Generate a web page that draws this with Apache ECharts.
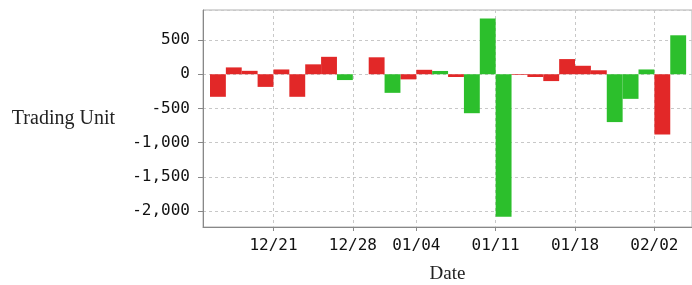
<!DOCTYPE html>
<html>
<head>
<meta charset="utf-8">
<script src="https://cdn.jsdelivr.net/npm/echarts@6/dist/echarts.min.js"></script>
<style>
  html, body { margin: 0; padding: 0; background: #fff; }
  #chart { width: 692px; height: 285px; }
</style>
</head>
<body>
<div id="chart"></div>
<script>
// trading days shown on the axis
const dates = [
  '12/15', '12/16', '12/17', '12/18',
  '12/21', '12/22', '12/23', '12/24', '12/25',
  '12/28', '12/29', '12/30', '12/31',
  '01/04', '01/05', '01/06', '01/07', '01/08',
  '01/11', '01/12', '01/13', '01/14', '01/15',
  '01/18', '01/19', '01/20', '01/21', '01/22',
  '02/02', '02/03'
]
const tickLabels = ['12/21', '12/28', '01/04', '01/11', '01/18', '02/02']

// red bars (price up days) and green bars (price down days)
const upDays = [
  -330, 100, 50, -185, 70, -330, 145, 255, null, null,
  248, null, -75, 65, null, -40, null, null, null, -10,
  -40, -100, 222, 124, 58, null, null, null, -880, null
]
const downDays = [
  null, null, null, null, null, null, null, null, -85, null,
  null, -272, null, null, 48, null, -570, 815, -2085, null,
  null, null, null, null, null, -700, -360, 70, null, 570
]

const chart = echarts.init(document.getElementById('chart'))

const tickPos = tickLabels.map(d => dates.indexOf(d) - 0.5)
const toPoints = arr => arr.map((v, i) => [i, v])

const dashed = { show: true, lineStyle: { color: '#c8c8c8', type: [3, 3], width: 1 } }

const option = {
  animation: false,
  grid: {
    left: 203, right: 0, top: 10, bottom: 58,
    outerBoundsMode: 'none',
    show: true, borderColor: '#b0b0b0', borderWidth: 1
  },
  xAxis: {
    type: 'value',
    min: -0.94,
    max: 29.87,
    name: 'Date',
    nameLocation: 'middle',
    nameGap: 38,
    nameTextStyle: { fontFamily: 'Liberation Serif', fontSize: 19, color: '#222' },
    axisLine: { show: true, onZero: false, lineStyle: { color: '#888' } },
    axisTick: { show: true, length: 4, customValues: tickPos, lineStyle: { color: '#888' } },
    axisLabel: {
      customValues: tickPos,
      margin: 11,
      fontFamily: 'DejaVu Sans Mono',
      fontSize: 16,
      color: '#111',
      formatter: v => dates[Math.round(v + 0.5)]
    },
    splitLine: dashed
  },
  yAxis: {
    type: 'value',
    min: -2235,
    max: 940,
    name: 'Trading Unit',
    nameLocation: 'middle',
    nameRotate: 0,
    nameGap: 88,
    nameTextStyle: { fontFamily: 'Liberation Serif', fontSize: 20, color: '#222' },
    axisLine: { show: true, onZero: false, lineStyle: { color: '#888' } },
    axisTick: { show: true, length: 5, lineStyle: { color: '#888' } },
    axisLabel: {
      margin: 13,
      showMinLabel: false,
      showMaxLabel: false,
      fontFamily: 'DejaVu Sans Mono',
      fontSize: 16,
      color: '#111',
      formatter: v => v.toLocaleString('en-US')
    },
    splitLine: dashed
  },
  series: [
    {
      name: 'Up',
      type: 'bar',
      data: toPoints(upDays),
      barWidth: '100%',
      barGap: '-100%',
      itemStyle: { color: '#e22828' }
    },
    {
      name: 'Down',
      type: 'bar',
      data: toPoints(downDays),
      barWidth: '100%',
      barGap: '-100%',
      itemStyle: { color: '#2cbf2c' }
    }
  ]
}
chart.setOption(option)
</script>
</body>
</html>
